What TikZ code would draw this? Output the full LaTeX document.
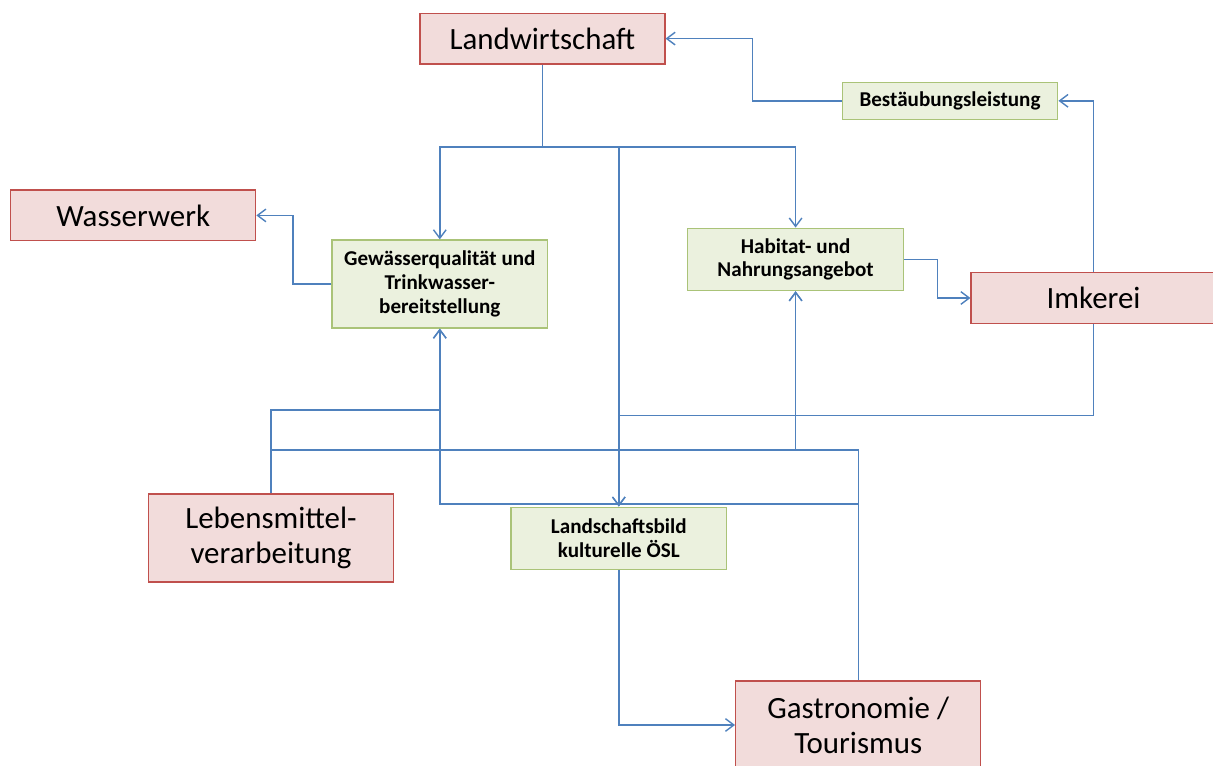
\documentclass[tikz,border=0pt]{standalone}
\usepackage{fontspec}
\setmainfont{Carlito}
\usepackage{tikz}
\usetikzlibrary{arrows.meta}

\definecolor{actorfill}{HTML}{F2DCDB}
\definecolor{actorline}{HTML}{C0504D}
\definecolor{servicefill}{HTML}{EBF1DE}
\definecolor{serviceline}{RGB}{170,195,120}
\definecolor{linkblue}{HTML}{4F81BD}

\begin{document}
\begin{tikzpicture}[
		actor/.style={draw=actorline, line width=0.9pt, fill=actorfill, minimum width=6.125cm, minimum height=1.27cm, inner sep=0pt, align=center, font=\fontsize{22}{25}\selectfont},
		service/.style={draw=serviceline, line width=0.9pt, fill=servicefill, minimum width=5.39cm, inner sep=0pt, align=center, font=\fontsize{15}{17}\selectfont\bfseries},
		arrow/.style={-{Straight Barb[length=6pt,width=9pt]}, linkblue, line width=1pt}
		]
		
		\useasboundingbox (0,0) rectangle (30.325,19.125);
		
		% Nodes
		\node[actor] (land) at (13.56,18.16) {Landwirtschaft};
		\node[actor] (wasser) at (3.33,13.74) {Wasserwerk};
		\node[actor] (imker) at (27.34,11.675) {Imkerei};
		\node[actor, minimum height=2.2cm] (leben) at (6.775,5.675) {Lebensmittel-\\verarbeitung};
		\node[actor, minimum height=2.2cm] (gastro) at (21.455,1.0) {Gastronomie /\\Tourismus};
		\node[service, minimum height=0.925cm] (best) at (23.75,16.605) {Bestäubungsleistung};
		\node[service, minimum height=2.2cm] (gew) at (10.995,12.025) {Gewässerqualität und\\Trinkwasser-\\bereitstellung};
		\node[service, minimum height=1.56cm] (habitat) at (19.89,12.64) {Habitat- und\\Nahrungsangebot};
		\node[service, minimum height=1.55cm] (bild) at (15.47,5.67) {Landschaftsbild\\kulturelle ÖSL};
		
		% Junctions
		\coordinate (split) at (13.56,15.45);
		\coordinate (imkjoin) at (15.47,8.74);
		\coordinate (habjoin) at (19.89,7.875);
		\coordinate (gewjoin) at (10.995,6.525);
		
		% Arrows
		\draw[arrow] (land.south) -- (split) -| (gew.north);
		\draw[arrow] (split) -| (habitat.north);
		\draw[arrow] (split) -| (bild.north);
		\draw[arrow] (best.west) -- ++(-2.22,0) |- (land.east);
		\draw[arrow] (imker.north) |- (best.east);
		\draw[arrow] (gew.west) -- ++(-0.955,0) |- (wasser.east);
		\draw[arrow] (habitat.east) -- ++(0.84,0) |- (imker.west);
		\draw[arrow] (imker.south) |- (imkjoin) -- (bild.north);
		\draw[arrow] (leben.north) -- ++(0,2.08) -| (gew.south);
		\draw[arrow] (leben.north) |- (habjoin) -- (habitat.south);
		\draw[arrow] (gastro.north) |- (habjoin) -- (habitat.south);
		\draw[arrow] (gastro.north) |- (gewjoin) -- (gew.south);
		\draw[arrow] (bild.south) |- (gastro.west);
		
	\end{tikzpicture}
\end{document}
